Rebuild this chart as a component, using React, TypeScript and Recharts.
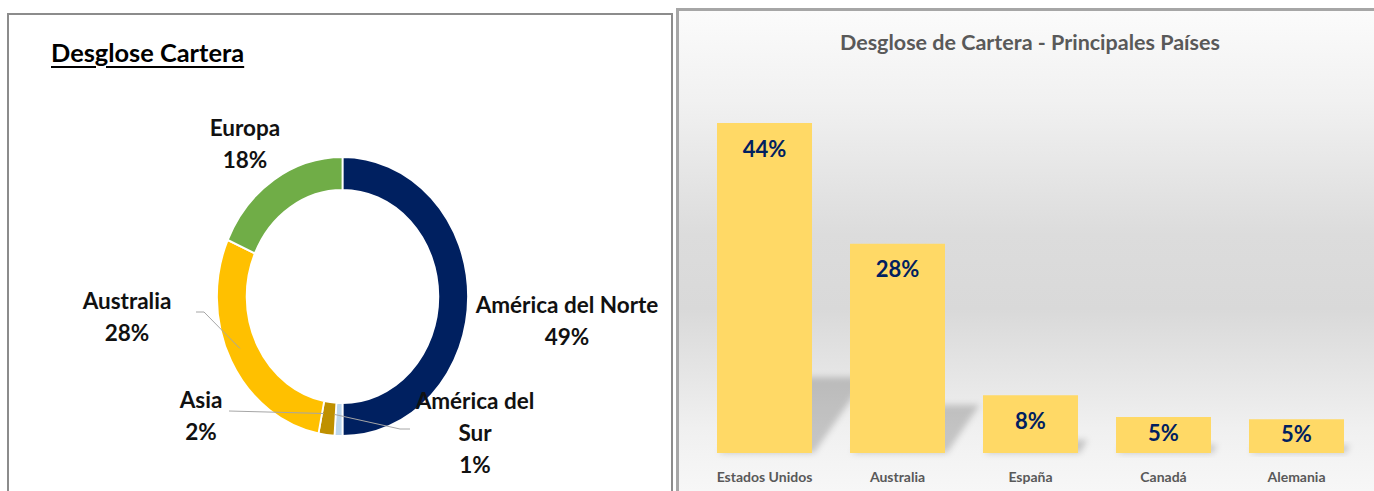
import { PieChart, Pie, Cell, BarChart, Bar, XAxis, YAxis, LabelList } from "recharts";

const regions = ["América del Norte", "América del Sur", "Asia", "Australia", "Europa"];
const regionShares = [49, 1, 2, 28, 18];
const regionColors = ["#002060", "#BDD7EE", "#BF9000", "#FFC000", "#70AD47"];

const countries = ["Estados Unidos", "Australia", "España", "Canadá", "Alemania"];
const countryShares = [44, 27.9, 7.7, 4.8, 4.5];

const FONT = "Lato, 'Open Sans', sans-serif";

// donut is drawn squeezed horizontally like the original (ellipse)
const SX = 0.9;
const PIE_CX = 338;
const PIE_CY = 291.5;
const RAD = Math.PI / 180;

// where excel put the data labels (screen coords), plus leader lines
const labelSpots: Record<string, { x: number; y: number; lines: string[]; leader?: number[][] }> = {
  "América del Norte": { x: 567, y: 304, lines: ["América del Norte"] },
  "América del Sur": { x: 475, y: 400, lines: ["América del", "Sur"], leader: [[410, 429], [400, 429]] },
  Asia: { x: 201, y: 399, lines: ["Asia"], leader: [[229, 411]] },
  Australia: { x: 127, y: 300, lines: ["Australia"], leader: [[196, 312], [204, 312]] },
  Europa: { x: 245, y: 127, lines: ["Europa"] },
};

const regionData = regions.map((name, i) => ({ name, value: regionShares[i] }));
const countryData = countries.map((country, i) => ({ country, share: countryShares[i] }));

function RegionLabel(props: any) {
  const { midAngle, innerRadius, outerRadius, name, value } = props;
  const spot = labelSpots[name];
  if (!spot) return null;
  const rMid = (innerRadius + outerRadius) / 2;
  const px = PIE_CX + SX * rMid * Math.cos(-midAngle * RAD);
  const py = PIE_CY + rMid * Math.sin(-midAngle * RAD);
  const rows = [...spot.lines, `${value}%`];
  return (
    <g>
      {spot.leader && (
        <polyline
          points={[...spot.leader, [px, py]].map((p) => p.join(",")).join(" ")}
          fill="none"
          stroke="#A6A6A6"
          strokeWidth={1}
        />
      )}
      {rows.map((t, i) => (
        <text
          key={i}
          x={spot.x}
          y={spot.y + i * 32}
          textAnchor="middle"
          dominantBaseline="central"
          fontFamily={FONT}
          fontWeight={700}
          fontSize={22.5}
          fill="#111"
        >
          {t}
        </text>
      ))}
    </g>
  );
}

function ShadowBar(props: any) {
  const { x, y, width, height, fill } = props;
  if (!height) return null;
  const base = y + height;
  const sh = height * 0.23;
  const shift = sh * 0.72;
  const pts = [
    [x + 2, base],
    [x + width + 2, base],
    [x + width + shift, base - sh],
    [x + shift, base - sh],
  ];
  return (
    <g>
      <polygon points={pts.map((p) => p.join(",")).join(" ")} fill="#000" fillOpacity={0.19} filter="url(#barShadowBlur)" />
      <rect x={x} y={y} width={width} height={height} fill={fill} />
    </g>
  );
}

function BarValue(props: any) {
  const { x, y, width, height, value } = props;
  const ty = Math.min(y + 25, y + height / 2 - 3);
  return (
    <text
      x={x + width / 2}
      y={ty}
      textAnchor="middle"
      dominantBaseline="central"
      fontFamily={FONT}
      fontWeight={700}
      fontSize={22}
      fill="#002060"
    >
      {Math.round(value)}%
    </text>
  );
}

function CountryTick(props: any) {
  const { x, y, payload } = props;
  return (
    <text
      x={x}
      y={y + 23}
      textAnchor="middle"
      dominantBaseline="central"
      fontFamily={FONT}
      fontWeight={700}
      fontSize={14}
      fill="#595959"
    >
      {payload.value}
    </text>
  );
}

export default function App() {
  return (
    <div style={{ position: "relative", width: 1374, height: 491, overflow: "hidden", background: "#fff" }}>
      <style>{`
        body { margin: 0; }
        .donut .recharts-sector { transform: scaleX(${SX}); transform-origin: ${PIE_CX}px ${PIE_CY}px; }
      `}</style>
      <svg width={0} height={0} style={{ position: "absolute" }}>
        <defs>
          <filter id="barShadowBlur" x="-50%" y="-50%" width="200%" height="200%">
            <feGaussianBlur stdDeviation={3} />
          </filter>
        </defs>
      </svg>

      {/* left panel */}
      <div
        style={{
          position: "absolute",
          left: 7,
          top: 13,
          width: 666,
          height: 500,
          border: "2px solid #8C8C8C",
          boxSizing: "border-box",
        }}
      />
      <div
        style={{
          position: "absolute",
          left: 51,
          top: 39.5,
          fontFamily: FONT,
          fontWeight: 700,
          fontSize: 25.4,
          lineHeight: 1,
          color: "#000",
          textDecoration: "underline",
          textDecorationThickness: 2,
          textUnderlineOffset: 4,
          whiteSpace: "nowrap",
        }}
      >
        Desglose Cartera
      </div>
      <div className="donut" style={{ position: "absolute", left: 0, top: 0 }}>
        <PieChart width={672} height={491}>
          <Pie
            data={regionData}
            dataKey="value"
            nameKey="name"
            cx={PIE_CX}
            cy={PIE_CY}
            innerRadius={106.5}
            outerRadius={139.5}
            startAngle={90}
            endAngle={-270}
            stroke="#fff"
            strokeWidth={2}
            labelLine={false}
            label={RegionLabel}
            isAnimationActive={false}
          >
            {regionData.map((d, i) => (
              <Cell key={d.name} fill={regionColors[i]} />
            ))}
          </Pie>
        </PieChart>
      </div>

      {/* right panel */}
      <div
        style={{
          position: "absolute",
          left: 676,
          top: 8,
          width: 720,
          height: 500,
          borderLeft: "3px solid #A6A6A6",
          borderTop: "3px solid #A6A6A6",
          boxSizing: "border-box",
          background:
            "linear-gradient(to bottom, #fbfbfb 0%, #f1f1f1 18%, #dcdcdc 45%, #d9d9d9 60%, #f0f0f0 84%, #f9f9f9 100%)",
        }}
      />
      <div
        style={{
          position: "absolute",
          left: 1030,
          top: 32,
          transform: "translateX(-50%)",
          fontFamily: FONT,
          fontWeight: 700,
          fontSize: 21.5,
          lineHeight: 1,
          color: "#595959",
          whiteSpace: "nowrap",
        }}
      >
        Desglose de Cartera - Principales Países
      </div>
      <div style={{ position: "absolute", left: 677, top: 8 }}>
        <BarChart
          width={697}
          height={483}
          data={countryData}
          margin={{ top: 70, right: 11, left: 21, bottom: 0 }}
          barCategoryGap={19}
        >
          <XAxis
            dataKey="country"
            height={38}
            axisLine={false}
            tickLine={false}
            tickSize={0}
            tickMargin={0}
            interval={0}
            tick={CountryTick}
          />
          <YAxis hide domain={[0, 50]} />
          <Bar dataKey="share" fill="#FFD966" shape={ShadowBar} isAnimationActive={false}>
            <LabelList dataKey="share" content={BarValue} />
          </Bar>
        </BarChart>
      </div>
    </div>
  );
}
